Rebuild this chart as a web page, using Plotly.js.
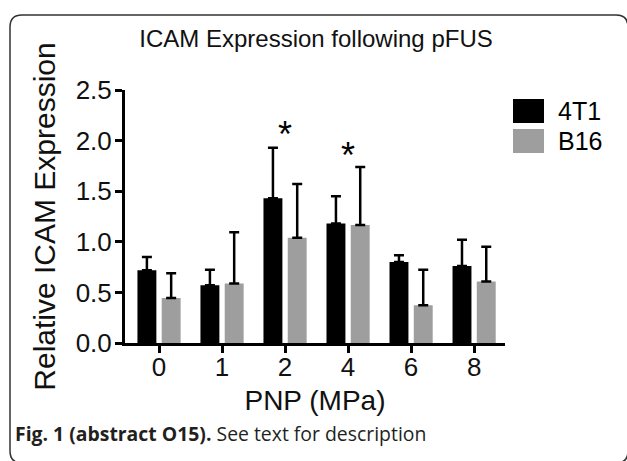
<!DOCTYPE html>
<html>
<head>
<meta charset="utf-8">
<script src="https://cdn.plot.ly/plotly-3.0.1.min.js"></script>
<style>
html,body{margin:0;padding:0;background:#fff;}
#chart{width:627px;height:461px;}
</style>
</head>
<body>
<div id="chart"></div>
<script>
// ---- data ----
const categories = ["0", "1", "2", "4", "6", "8"];
const seriesNames = ["4T1", "B16"];
const t4t1 = [0.72, 0.57, 1.43, 1.18, 0.80, 0.76];
const t4t1Err = [0.13, 0.155, 0.50, 0.27, 0.067, 0.26];
const b16 = [0.445, 0.587, 1.04, 1.165, 0.373, 0.607];
const b16Err = [0.245, 0.508, 0.53, 0.575, 0.352, 0.343];
const sigCategories = ["2", "4"];
const sigLevels = [2.12, 1.91];
const titleText = "ICAM Expression following pFUS";
const xTitle = "PNP (MPa)";
const yTitle = "Relative ICAM Expression";
const caption = "<b>Fig. 1 (abstract O15).</b> See text for description";

// ---- layout helpers (pixel -> paper) ----
const W = 627, H = 461;
const M = {l: 125, r: 122, t: 90, b: 118};
const PW = W - M.l - M.r, PH = H - M.t - M.b;
const px = x => (x - M.l) / PW;
const py = y => (H - M.b - y) / PH;

const colors = ["#000000", "#9e9e9e"];
const font = "Liberation Sans, Arial, sans-serif";

const traces = [
  {type: "bar", name: seriesNames[0], x: categories, y: t4t1,
   marker: {color: colors[0]},
   error_y: {type: "data", array: t4t1Err, arrayminus: t4t1.map(() => 0), symmetric: false,
             color: "#000", thickness: 2.5, width: 5},
   showlegend: false, hoverinfo: "none"},
  {type: "bar", name: seriesNames[1], x: categories, y: b16,
   marker: {color: colors[1]},
   error_y: {type: "data", array: b16Err, arrayminus: b16.map(() => 0), symmetric: false,
             color: "#000", thickness: 2.5, width: 5},
   showlegend: false, hoverinfo: "none"}
];

const annotations = sigCategories.map((c, i) => ({
  x: categories.indexOf(c), y: sigLevels[i], xref: "x", yref: "y", text: "*", showarrow: false,
  xshift: 0, yshift: -6, font: {family: font, size: 36, color: "#000"}, yanchor: "middle"
}));

// legend (custom, large swatches)
const shapes = [];
seriesNames.forEach((n, i) => {
  const top = 99 + i * 30;
  shapes.push({type: "rect", xref: "paper", yref: "paper",
    x0: px(513), x1: px(544), y0: py(top), y1: py(top + 24),
    fillcolor: colors[i], line: {width: 0}});
  annotations.push({xref: "paper", yref: "paper", x: px(556), y: py(top + 12),
    xanchor: "left", yanchor: "middle", text: n, showarrow: false,
    font: {family: font, size: 25, color: "#000"}});
});

// figure frame with rounded corners
const fx0 = 10, fy0 = 15, fx1 = 628, fy1 = 463, r = 12;
shapes.push({type: "path", xref: "paper", yref: "paper", layer: "above",
  path: `M ${px(fx0)} ${py(fy0 + r)} Q ${px(fx0)} ${py(fy0)} ${px(fx0 + r)} ${py(fy0)} ` +
        `L ${px(fx1 - r)} ${py(fy0)} Q ${px(fx1)} ${py(fy0)} ${px(fx1)} ${py(fy0 + r)} ` +
        `L ${px(fx1)} ${py(fy1 - r)} Q ${px(fx1)} ${py(fy1)} ${px(fx1 - r)} ${py(fy1)} ` +
        `L ${px(fx0 + r)} ${py(fy1)} Q ${px(fx0)} ${py(fy1)} ${px(fx0)} ${py(fy1 - r)} Z`,
  line: {color: "#333", width: 1.5}});

annotations.push({xref: "paper", yref: "paper", x: px(13), y: py(433),
  xanchor: "left", yanchor: "middle", text: caption, showarrow: false,
  font: {family: "Open Sans, sans-serif", size: 19.4, color: "#231f20"}});

const layout = {
  width: W, height: H,
  margin: M,
  paper_bgcolor: "#fff", plot_bgcolor: "#fff",
  title: {text: titleText, x: 316 / W, xanchor: "center", y: 1 - 39 / H, yanchor: "middle",
          font: {family: font, size: 24, color: "#111"}},
  barmode: "group", bargap: 0.23, bargroupgap: 0.22,
  xaxis: {type: "category", range: [-0.54, 5.49], showline: true, linewidth: 3, linecolor: "#000",
          ticks: "outside", ticklen: 7, tickwidth: 3, tickcolor: "#000", ticklabelstandoff: -8,
          tickfont: {family: font, size: 26, color: "#111"}, showgrid: false, zeroline: false,
          title: {text: xTitle, font: {family: font, size: 28, color: "#111"}, standoff: 10}},
  yaxis: {range: [0, 2.5], dtick: 0.5, tickformat: ".1f", showline: true, linewidth: 3, linecolor: "#000",
          ticks: "outside", ticklen: 7, tickwidth: 3, tickcolor: "#000", ticklabelstandoff: -2,
          tickfont: {family: font, size: 26, color: "#111"}, showgrid: false, zeroline: false,
          title: {text: yTitle, font: {family: font, size: 30, color: "#111"}, standoff: 12}},
  shapes: shapes,
  annotations: annotations,
  showlegend: false
};

Plotly.newPlot("chart", traces, layout, {displayModeBar: false, staticPlot: true});
</script>
</body>
</html>
